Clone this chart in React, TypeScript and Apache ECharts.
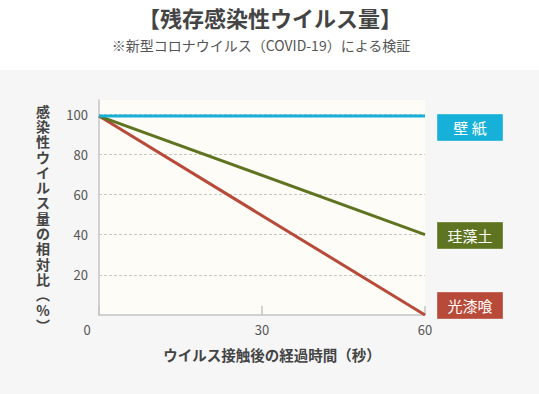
import React, { useEffect, useRef } from "react";
import * as echarts from "echarts";

const times = [0, 60];
const wallpaper = [99, 99];
const diatomite = [99, 40];
const plaster = [99, 0];
const seriesNames = ["壁 紙", "珪藻土", "光漆喰"];
const colors = ["#17b0d8", "#5e7420", "#b84a3a"];

const FONT = '"Noto Sans CJK JP", "Noto Sans", sans-serif';

export default function App() {
  const ref = useRef<HTMLDivElement>(null);
  useEffect(() => {
    document.body.style.margin = "0";
    const chart = echarts.init(ref.current!, null, { renderer: "svg" });
    const toPairs = (vals: number[]) => times.map((t, i) => [t, vals[i]]);
    const yName = "感染性ウイルス量の相対比︵%︶".split("").join("\n");
    const boxes = [
      { y: 114, text: seriesNames[0], color: colors[0] },
      { y: 222, text: seriesNames[1], color: colors[1] },
      { y: 292, text: seriesNames[2], color: colors[2] },
    ];
    chart.setOption({
      animation: false,
      backgroundColor: "#ffffff",
      textStyle: { fontFamily: FONT },
      grid: {
        left: 99,
        right: 114,
        top: 100,
        bottom: 79,
        show: true,
        backgroundColor: "#fdfcf7",
        borderWidth: 0,
      },
      xAxis: {
        type: "value",
        min: 0,
        max: 60,
        interval: 30,
        name: "ウイルス接触後の経過時間（秒）",
        nameLocation: "middle",
        nameGap: 32,
        nameTextStyle: {
          fontFamily: FONT,
          fontSize: 14.5,
          fontWeight: "bold",
          color: "#444",
          padding: [0, 0, 0, 20],
        },
        axisLine: { show: true, lineStyle: { color: "#c4c4c4", width: 1.5 } },
        axisTick: { show: true, inside: true, length: 9, lineStyle: { color: "#c4c4c4", width: 1.5 } },
        axisLabel: {
          margin: 8,
          fontSize: 13,
          color: "#555",
          fontFamily: FONT,
          formatter: (v: number) => (v === 0 ? "" : String(v)),
        },
        splitLine: { show: false },
      },
      yAxis: {
        type: "value",
        min: 0,
        max: 107,
        interval: 20,
        axisLine: { show: true, lineStyle: { color: "#c4c4c4", width: 1.5 } },
        axisTick: { show: false },
        axisLabel: {
          margin: 11,
          fontSize: 13,
          color: "#555",
          fontFamily: FONT,
          showMinLabel: false,
          showMaxLabel: false,
          formatter: (v: number) => (v % 20 === 0 && v > 0 ? String(v) : ""),
        },
        splitLine: {
          show: true,
          showMinLine: false,
          showMaxLine: false,
          lineStyle: { color: "#c8c8c8", type: [3, 2], width: 1 },
        },
      },
      series: [
        {
          name: seriesNames[0],
          type: "line",
          data: toPairs(wallpaper),
          symbol: "none",
          lineStyle: { color: colors[0], width: 3 },
          z: 5,
        },
        {
          name: seriesNames[1],
          type: "line",
          data: toPairs(diatomite),
          symbol: "none",
          lineStyle: { color: colors[1], width: 3 },
          z: 4,
        },
        {
          name: seriesNames[2],
          type: "line",
          data: toPairs(plaster),
          symbol: "none",
          lineStyle: { color: colors[2], width: 3 },
          z: 3,
        },
      ],
      graphic: [
        {
          type: "rect",
          z: -10,
          silent: true,
          shape: { x: 0, y: 70, width: 539, height: 324 },
          style: { fill: "#f6f6f6" },
        },
        {
          type: "text",
          x: 270,
          y: 17,
          style: {
            text: "【残存感染性ウイルス量】",
            fontFamily: FONT,
            fontSize: 22,
            fontWeight: "bold",
            fill: "#444",
            align: "center",
            verticalAlign: "middle",
          },
        },
        {
          type: "text",
          x: 261,
          y: 45,
          style: {
            text: "※新型コロナウイルス（COVID-19）による検証",
            fontFamily: FONT,
            fontSize: 14,
            fill: "#555",
            align: "center",
            verticalAlign: "middle",
          },
        },
        {
          type: "text",
          x: 43,
          y: 103,
          style: {
            text: yName,
            fontFamily: FONT,
            fontSize: 14,
            fontWeight: "bold",
            lineHeight: 15.3,
            fill: "#444",
            align: "center",
            verticalAlign: "top",
          },
        },
        {
          type: "text",
          x: 87,
          y: 329,
          style: {
            text: "0",
            fontFamily: FONT,
            fontSize: 13,
            fill: "#555",
            align: "center",
            verticalAlign: "middle",
          },
        },
        ...boxes.map((b) => ({
          type: "group",
          children: [
            {
              type: "rect",
              shape: { x: 437, y: b.y, width: 66, height: 27 },
              style: { fill: b.color, stroke: "rgba(255,255,255,0.35)", lineWidth: 1 },
            },
            {
              type: "text",
              x: 470,
              y: b.y + 13.5,
              style: {
                text: b.text,
                fontFamily: FONT,
                fontSize: 15,
                fill: "#ffffff",
                align: "center",
                verticalAlign: "middle",
              },
            },
          ],
        })),
      ],
    });
    return () => chart.dispose();
  }, []);
  return <div ref={ref} style={{ width: 539, height: 394 }} />;
}
